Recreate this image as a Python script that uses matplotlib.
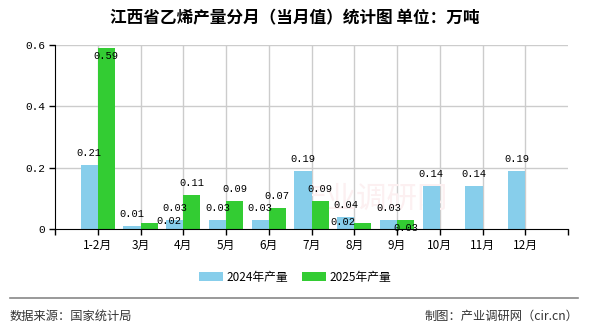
import matplotlib.pyplot as plt
import numpy as np

# Monthly ethylene output, Jiangxi (10k tonnes)
months = ["1-2月", "3月", "4月", "5月", "6月", "7月", "8月", "9月", "10月", "11月", "12月"]
prod_2024 = [0.21, 0.01, 0.03, 0.03, 0.03, 0.19, 0.04, 0.03, 0.14, 0.14, 0.19]
prod_2025 = [0.59, 0.02, 0.11, 0.09, 0.07, 0.09, 0.02, 0.03, np.nan, np.nan, np.nan]
series_names = ["2024年产量", "2025年产量"]
y_ticks = [0, 0.2, 0.4, 0.6]
y_tick_labels = ["0", "0.2", "0.4", "0.6"]

title = "江西省乙烯产量分月（当月值）统计图 单位：万吨"
source_note = "数据来源：国家统计局"
maker_note = "制图：产业调研网（cir.cn）"

# Colors
col_2024 = "#87CEEB"
col_2025 = "#33CC33"
col_grid = "#CCCCCC"
col_txt = "#333333"

cjk = ["Noto Sans CJK SC", "DejaVu Sans"]
mono = ["Liberation Mono", "Noto Sans CJK SC"]
plt.rcParams["font.family"] = cjk

fig = plt.figure(figsize=(5.9, 3.3), dpi=100)
ax = fig.add_axes([55 / 590, 1 - 229 / 330, 513 / 590, 184 / 330])

x = np.arange(1, len(months) + 1)
w = 0.4
ax.bar(x - w / 2, prod_2024, width=w, color=col_2024, label=series_names[0], zorder=2)
ax.bar(x + w / 2, prod_2025, width=w, color=col_2025, label=series_names[1], zorder=2)

# Value labels (pixel offsets from the bar top; a few nudged to avoid overlaps)
shift_2025 = {0: (0, -8), 1: (20, 2), 6: (-20, 1), 7: (0, -8)}
for i, v in enumerate(prod_2024):
    ax.annotate(f"{v:.2f}", (x[i] - w / 2, v), xytext=(0, 12), textcoords="offset pixels",
                ha="center", va="center", fontsize=7.5, family=mono, color="black", zorder=4)
for i, v in enumerate(prod_2025):
    if np.isnan(v):
        continue
    dx, dy = shift_2025.get(i, (0, 12))
    ax.annotate(f"{v:.2f}", (x[i] + w / 2, v), xytext=(dx, dy), textcoords="offset pixels",
                ha="center", va="center", fontsize=7.5, family=mono, color="black", zorder=4)

ax.set_xlim(0, len(months) + 1)
ax.set_ylim(0, 0.6)

# Grid
for yv in y_ticks[1:]:
    ax.axhline(yv, color=col_grid, linewidth=1, zorder=1)
for xv in x:
    ax.axvline(xv, color=col_grid, linewidth=1, zorder=1)

ax.set_xticks(np.arange(0, len(months) + 2))
ax.set_xticklabels([""] + months + [""], fontsize=8.5)
ax.set_yticks(y_ticks)
ax.set_yticklabels(y_tick_labels, family=mono, fontsize=8)
ax.tick_params(axis="both", direction="out", length=4, width=1, color="black", pad=3)

for side in ["top", "right"]:
    ax.spines[side].set_visible(False)
ax.spines["left"].set_color("black")
ax.spines["bottom"].set_color("black")
ax.spines["left"].set_zorder(3)
ax.spines["bottom"].set_zorder(3)

# Faint site watermark behind the bars
ax.text(0.618, 0.16, "产业调研网", transform=ax.transAxes, fontsize=22,
        color="#FCF0F1", ha="center", va="center", zorder=1.5)

fig.text(0.5, 1 - 18 / 330, title, ha="center", va="center", fontsize=12,
         fontweight="bold", color="black")

fig.legend(loc="center", bbox_to_anchor=(0.5, 1 - 277 / 330), ncol=2, frameon=False,
           fontsize=8.5, handlelength=2.0, handleheight=0.8, handletextpad=0.3,
           columnspacing=1.2)

fig.add_artist(plt.Line2D([10 / 590, 578 / 590], [1 - 298 / 330] * 2,
                          color="#888888", linewidth=1.2, transform=fig.transFigure))
fig.text(10 / 590, 1 - 316 / 330, source_note, ha="left", va="center",
         fontsize=8.8, color=col_txt)
fig.text(578 / 590, 1 - 316 / 330, maker_note, ha="right", va="center",
         fontsize=8.8, color=col_txt)

fig.savefig("out.png", dpi=100)
